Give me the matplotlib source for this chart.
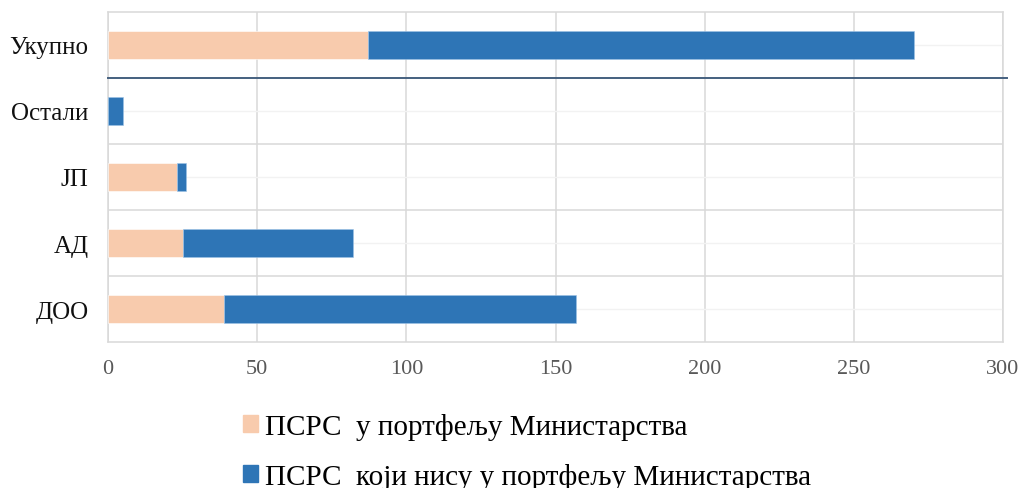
import matplotlib
matplotlib.use("Agg")
import matplotlib.pyplot as plt
from matplotlib.patches import Patch

categories = ["ДОО", "АД", "ЈП", "Остали", "Укупно"]
in_portfolio = [39, 25, 23, 0, 87]
not_in_portfolio = [118, 57, 3, 5, 183]
series_labels = ["ПСРС  у портфељу Министарства", "ПСРС  који нису у портфељу Министарства"]
xticks = [0, 50, 100, 150, 200, 250, 300]

c_peach = "#F8CBAD"
c_blue = "#2E75B6"

plt.rcParams["font.family"] = ["Liberation Serif", "DejaVu Serif"]

fig = plt.figure(figsize=(10.22, 4.89), dpi=100)
ax = fig.add_axes([108/1022, 1-343/489, (1003-108)/1022, (343-13)/489])

y = list(range(len(categories)))
ax.barh(y, in_portfolio, height=0.42, color=c_peach, edgecolor="white", linewidth=0.4, zorder=3)
ax.barh(y, not_in_portfolio, left=in_portfolio, height=0.42, color=c_blue, edgecolor="#9DC3E6", linewidth=0.4, zorder=3)

ax.set_xlim(0, 300)
ax.set_ylim(-0.5, len(categories)-0.5)
ax.set_xticks(xticks)
ax.set_xticklabels([str(t) for t in xticks], fontsize=16, color="#595959")
ax.set_yticks(y)
ax.set_yticklabels(categories, fontsize=18, color="#111111")
ax.tick_params(axis="both", length=0)
ax.tick_params(axis="y", pad=14)
ax.tick_params(axis="x", pad=12)

for xt in xticks:
    ax.axvline(xt, color="#D9D9D9", lw=1.1, zorder=1)
for yi in y:
    ax.axhline(yi, color="#F2F2F2", lw=1.0, zorder=1)
for b in [0.5, 1.5, 2.5]:
    ax.axhline(b, color="#D9D9D9", lw=1.1, zorder=1)
ax.plot([0, 1.005], [3.5, 3.5], transform=ax.get_yaxis_transform(), color="#44607F", lw=1.4, zorder=4, clip_on=False)

for s in ax.spines.values():
    s.set_color("#D9D9D9")
    s.set_linewidth(1.1)

handles = [Patch(color=c_peach), Patch(color=c_blue)]
fig.legend(handles, series_labels, loc="upper left", bbox_to_anchor=(243/1022, 1-414/489),
           frameon=False, fontsize=21, handlelength=0.5, handleheight=0.5, handletextpad=0.25,
           labelspacing=0.78, borderpad=0, borderaxespad=0)

fig.savefig("out.png", dpi=100)
